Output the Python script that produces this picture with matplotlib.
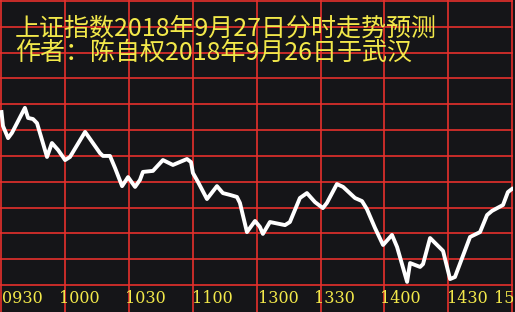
import matplotlib.pyplot as plt

plt.rcParams['font.family'] = ['Noto Sans CJK SC', 'DejaVu Sans']

# minutes since 09:30 on the trading clock (120 = 11:30 / 13:00)
minutes = [0, 0.7, 3.1, 4.9, 11.0, 12.5, 14.8, 16.7, 21.4, 23.7, 26.6, 29.9, 32.2,
           39.3, 46.3, 47.7, 51.0, 53.4, 56.7, 59.5, 62.8, 65.1, 66.5, 71.2, 75.9,
           80.6, 87.2, 89.1, 90.0, 92.4, 96.6, 101.3, 104.1, 107.4, 110.7, 112.1,
           115.4, 119.2, 121.5, 122.9, 126.2, 133.3, 135.6, 140.3, 143.6, 147.4,
           151.1, 153.0, 157.7, 160.6, 166.2, 169.5, 171.8, 175.6, 179.4, 183.6,
           186.0, 190.7, 192.1, 196.8, 198.2, 201.5, 204.8, 207.6, 210.9, 213.2,
           220.3, 225.0, 228.3, 230.6, 235.8, 238.1, 240.0]
# forecast level, in tenths of a grid row above the bottom line
level = [67.0, 61.6, 56.9, 58.9, 68.6, 64.7, 64.3, 62.7, 49.6, 55.0, 52.3, 48.4, 49.6,
         59.3, 51.1, 50.0, 50.0, 45.3, 38.3, 41.8, 38.0, 40.7, 43.8, 44.2, 48.4,
         46.5, 48.8, 47.6, 43.4, 39.9, 33.3, 38.3, 35.6, 34.9, 34.1, 31.8,
         20.5, 24.8, 22.5, 19.8, 24.4, 23.2, 24.4, 33.7, 35.6, 32.1,
         29.8, 31.8, 39.1, 38.0, 33.7, 32.5, 29.4, 22.1, 15.5, 19.4,
         14.7, 1.2, 8.5, 7.0, 8.1, 18.2, 15.5, 13.2, 2.3, 3.1,
         18.6, 20.5, 27.1, 28.7, 31.0, 36.0, 37.2]

tick_labels = ['0930', '1000', '1030', '1100', '1300', '1330', '1400', '1430', '1500']
tick_pos = [0.2, 27.0, 58.1, 89.6, 120.6, 146.9, 177.9, 209.4, 231.5]

title1 = '上证指数2018年9月27日分时走势预测'
title2 = '作者：陈自权2018年9月26日于武汉'

bg = '#151518'
red = '#e5302c'
yellow = '#f2e84a'

fig = plt.figure(figsize=(5.15, 3.12), dpi=100, facecolor=bg)
ax = fig.add_axes([0, 0, 512.8 / 515, 1])
ax.set_facecolor(bg)
ax.set_xlim(-0.705, 240.4)
ax.set_ylim(-10.46, 110.4)
ax.axis('off')

for m in range(0, 241, 30):
    ax.axvline(m, color=red, lw=1.2, zorder=1)
for v in range(0, 111, 10):
    ax.axhline(v, color=red, lw=1.2, zorder=1)

ax.plot(minutes, level, color='white', lw=2.8, zorder=3, solid_joinstyle='round')

for lab, p in zip(tick_labels, tick_pos):
    ax.text(p, -5.4, lab, color=yellow, fontsize=11.5, family='DejaVu Serif',
            ha='left', va='center', clip_on=True, zorder=4)

fig.text(15 / 515, 1 - 35.5 / 312, title1, color=yellow, fontsize=18, va='baseline')
fig.text(15 / 515, 1 - 60 / 312, title2, color=yellow, fontsize=18, va='baseline')

fig.savefig('out.png', dpi=100, facecolor=bg)
